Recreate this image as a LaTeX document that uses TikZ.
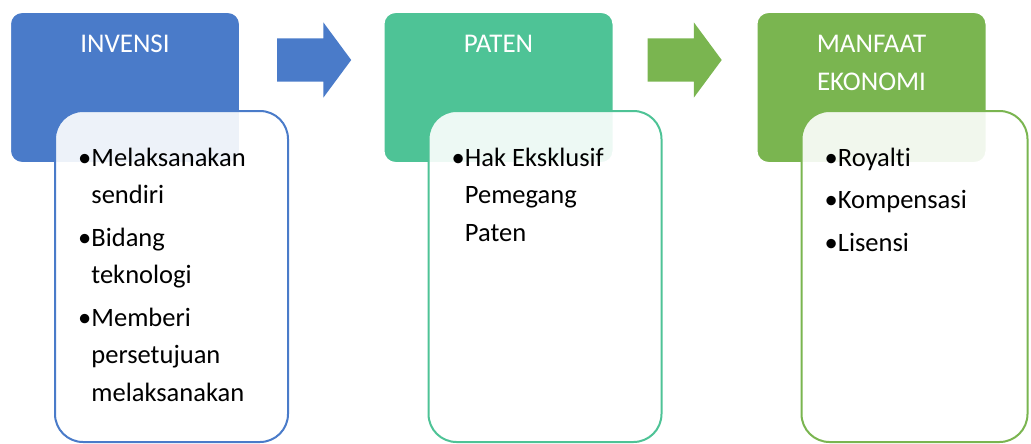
\documentclass[tikz,border=0pt]{standalone}
\usepackage{fontspec}
\setmainfont[Ligatures=NoCommon]{Carlito}
\usetikzlibrary{positioning,shapes.arrows}

\definecolor{invblue}{HTML}{4A7BC9}
\definecolor{patgreen}{HTML}{4EC396}
\definecolor{ekogreen}{HTML}{7AB550}

\begin{document}
\begin{tikzpicture}[x=1pt, y=-1pt,
    stage/.style={draw=white, line width=2pt, rounded corners=12pt, minimum width=230pt, minimum height=151pt, inner sep=0pt},
    stagetitle/.style={text=white, font=\fontsize{27}{38}\selectfont, align=center, anchor=north, inner sep=0pt},
    detail/.style={line width=2pt, fill=white, fill opacity=0.9, rounded corners=28pt, minimum width=233pt, minimum height=331pt, anchor=north west, inner sep=0pt},
    points/.style={anchor=north west, inner sep=0pt, font=\fontsize{26.5}{37.5}\selectfont},
    flow/.style={single arrow, draw=none, single arrow head extend=16pt, single arrow tip angle=107, minimum height=74pt, inner xsep=0pt, inner ysep=21.5pt, text height=0pt, text depth=0pt, anchor=tail}
    ]
    \useasboundingbox (0,0) rectangle (1031,444);

    \node[stage, fill=invblue] (invensi) at (125,87.5) {};
    \node[stage, fill=patgreen] (paten) at (498.5,87.5) {};
    \node[stage, fill=ekogreen] (manfaat) at (871.5,87.5) {};

    \node[stagetitle] (invensi_title) at ([yshift=-24pt]invensi.north) {INVENSI};
    \node[stagetitle] (paten_title) at ([yshift=-24pt]paten.north) {PATEN};
    \node[stagetitle] (manfaat_title) at ([yshift=-24pt]manfaat.north) {MANFAAT\\ EKONOMI};

    \node[flow, fill=invblue] (to_paten) at ([xshift=36pt,yshift=-49pt]invensi.north east) {};
    \node[flow, fill=ekogreen] (to_manfaat) at ([xshift=33pt,yshift=-49pt]paten.north east) {};

    \node[detail, draw=invblue] (invensi_detail) at ([xshift=45pt,yshift=-99pt]invensi.north west) {};
    \node[detail, draw=patgreen] (paten_detail) at ([xshift=45pt,yshift=-99pt]paten.north west) {};
    \node[detail, draw=ekogreen, minimum width=226pt] (manfaat_detail) at ([xshift=45pt,yshift=-99pt]manfaat.north west) {};

    \node[points] (invensi_points) at ([xshift=24pt,yshift=-30pt]invensi_detail.north west) {%
      \begin{tabular}{@{}l@{}l@{}}
        \textbullet & Melaksanakan\\
        & sendiri\\[5pt]
        \textbullet & Bidang\\
        & teknologi\\[5pt]
        \textbullet & Memberi\\
        & persetujuan\\
        & melaksanakan
      \end{tabular}};
    \node[points] (paten_points) at ([xshift=24pt,yshift=-30pt]paten_detail.north west) {%
      \begin{tabular}{@{}l@{}l@{}}
        \textbullet & Hak Eksklusif\\
        & Pemegang\\
        & Paten
      \end{tabular}};
    \node[points] (manfaat_points) at ([xshift=24pt,yshift=-30pt]manfaat_detail.north west) {%
      \begin{tabular}{@{}l@{}l@{}}
        \textbullet & Royalti\\[5pt]
        \textbullet & Kompensasi\\[5pt]
        \textbullet & Lisensi
      \end{tabular}};
  \end{tikzpicture}
\end{document}
